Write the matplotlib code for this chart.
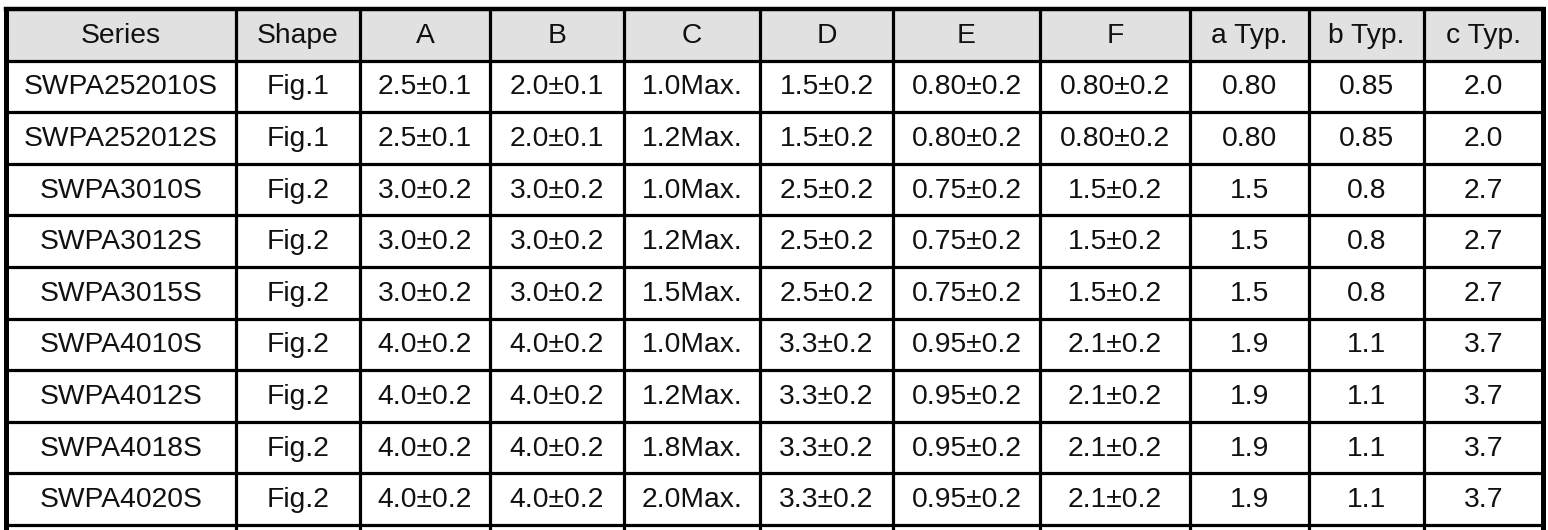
import matplotlib
matplotlib.use("Agg")
import matplotlib.pyplot as plt
from matplotlib.patches import Rectangle

headers = ["Series", "Shape", "A", "B", "C", "D", "E", "F", "a Typ.", "b Typ.", "c Typ."]
series = ["SWPA252010S", "SWPA252012S", "SWPA3010S", "SWPA3012S", "SWPA3015S",
          "SWPA4010S", "SWPA4012S", "SWPA4018S", "SWPA4020S"]
shape = ["Fig.1", "Fig.1", "Fig.2", "Fig.2", "Fig.2", "Fig.2", "Fig.2", "Fig.2", "Fig.2"]
col_a = ["2.5±0.1", "2.5±0.1", "3.0±0.2", "3.0±0.2", "3.0±0.2", "4.0±0.2", "4.0±0.2", "4.0±0.2", "4.0±0.2"]
col_b = ["2.0±0.1", "2.0±0.1", "3.0±0.2", "3.0±0.2", "3.0±0.2", "4.0±0.2", "4.0±0.2", "4.0±0.2", "4.0±0.2"]
col_c = ["1.0Max.", "1.2Max.", "1.0Max.", "1.2Max.", "1.5Max.", "1.0Max.", "1.2Max.", "1.8Max.", "2.0Max."]
col_d = ["1.5±0.2", "1.5±0.2", "2.5±0.2", "2.5±0.2", "2.5±0.2", "3.3±0.2", "3.3±0.2", "3.3±0.2", "3.3±0.2"]
col_e = ["0.80±0.2", "0.80±0.2", "0.75±0.2", "0.75±0.2", "0.75±0.2", "0.95±0.2", "0.95±0.2", "0.95±0.2", "0.95±0.2"]
col_f = ["0.80±0.2", "0.80±0.2", "1.5±0.2", "1.5±0.2", "1.5±0.2", "2.1±0.2", "2.1±0.2", "2.1±0.2", "2.1±0.2"]
a_typ = ["0.80", "0.80", "1.5", "1.5", "1.5", "1.9", "1.9", "1.9", "1.9"]
b_typ = ["0.85", "0.85", "0.8", "0.8", "0.8", "1.1", "1.1", "1.1", "1.1"]
c_typ = ["2.0", "2.0", "2.7", "2.7", "2.7", "3.7", "3.7", "3.7", "3.7"]

columns = [series, shape, col_a, col_b, col_c, col_d, col_e, col_f, a_typ, b_typ, c_typ]

# layout in pixels
col_edges = [6, 236, 360, 490, 624, 760, 893, 1040, 1190, 1309, 1424, 1543]
top = 9
row_h = 51.6

W, H = 1548, 530
fig = plt.figure(figsize=(W / 100, H / 100), dpi=100)
ax = fig.add_axes([0, 0, 1, 1])
ax.set_xlim(0, W)
ax.set_ylim(H, 0)
ax.axis("off")

n_rows = len(series) + 1
# header background
ax.add_patch(Rectangle((col_edges[0], top), col_edges[-1] - col_edges[0], row_h,
                       facecolor="#e1e1e1", edgecolor="none", zorder=0))

font = dict(family=["Liberation Sans", "DejaVu Sans"], fontsize=20.3, color="#111111",
            ha="center", va="center")
for j, name in enumerate(headers):
    xc = (col_edges[j] + col_edges[j + 1]) / 2
    ax.text(xc, top + row_h / 2 + 1, name, **font)
    for i, val in enumerate(columns[j]):
        yc = top + row_h * (i + 1) + row_h / 2 + 1
        ax.text(xc, yc, val, **font)

# grid lines (one extra partial row at the bottom)
bottom = top + row_h * (n_rows + 1)
for k in range(n_rows + 1):
    y = top + row_h * k
    lw = 3.2 if k == 0 else 2.3
    ax.plot([col_edges[0], col_edges[-1]], [y, y], color="black", lw=lw,
            solid_capstyle="projecting")
for j, x in enumerate(col_edges):
    lw = 3.6 if j in (0, len(col_edges) - 1) else 2.3
    ax.plot([x, x], [top, bottom], color="black", lw=lw, solid_capstyle="projecting")

fig.savefig("out.png", dpi=100)
